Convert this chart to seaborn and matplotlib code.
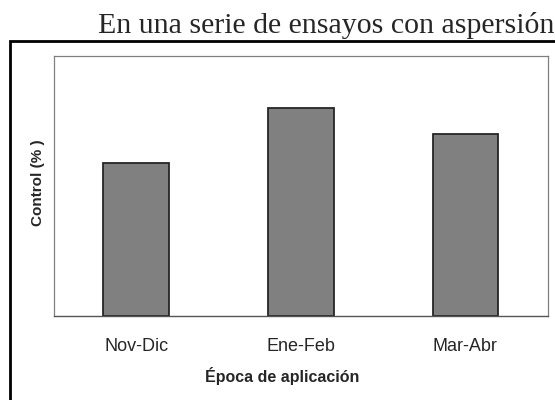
import matplotlib
matplotlib.use("Agg")
import matplotlib.pyplot as plt
import seaborn as sns
from matplotlib.patches import Rectangle

# datos del gráfico
epocas = ["Nov-Dic", "Ene-Feb", "Mar-Abr"]
control = [59, 80, 70]

sns.set_style("white")
plt.rcParams["font.family"] = ["Liberation Sans", "DejaVu Sans"]

fig = plt.figure(figsize=(5.55, 4), dpi=100)
ax = fig.add_axes([54 / 555, 1 - 316 / 400, 493.7 / 555, 260 / 400])

sns.barplot(x=epocas, y=control, color="#808080", saturation=1,
            edgecolor="#262626", linewidth=1.3, width=0.4, ax=ax)

ax.set_xlim(-0.5, 2.5)
ax.set_ylim(0, 100)
ax.set_yticks([])
ax.set_xticks([-0.5, 0.5, 1.5, 2.5], minor=True)
ax.tick_params(axis="x", which="major", length=0, labelsize=13, pad=16)
ax.tick_params(axis="x", which="minor", length=5, width=0.9, color="#555555")
for s in ["top", "right", "left"]:
    ax.spines[s].set_color("#808080")
    ax.spines[s].set_linewidth(0.9)
ax.spines["bottom"].set_color("#555555")
ax.spines["bottom"].set_linewidth(1.0)

ax.set_xlabel("Época de aplicación", fontsize=11.5, fontweight="bold")
ax.xaxis.set_label_coords((282 - 54) / 493.7, -(376 - 316) / 260)
ax.xaxis.label.set_va("center")
ax.set_ylabel("Control (% )", fontsize=11, fontweight="bold")
ax.yaxis.set_label_coords(-(54 - 38) / 493.7, (316 - 183) / 260)
ax.yaxis.label.set_va("center")

# marco exterior y texto de arriba
fig.patches.append(Rectangle((9.5 / 555, -0.2), 1.2, 1 - 41 / 400 + 0.2,
                             transform=fig.transFigure, fill=False,
                             edgecolor="black", linewidth=2.0))
fig.text(98 / 555, 1 - 33 / 400, "En una serie de ensayos con aspersión",
         fontsize=21.5, family="Liberation Serif", ha="left", va="baseline")

fig.savefig("out.png", dpi=100)
